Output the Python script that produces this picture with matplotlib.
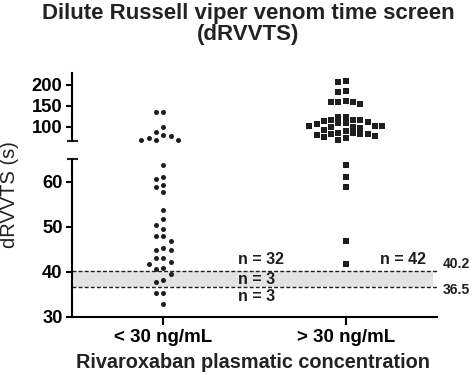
import numpy as np
import matplotlib
matplotlib.use('Agg')
import matplotlib.pyplot as plt

plt.rcParams['font.family'] = ['Liberation Sans', 'DejaVu Sans']

# dRVVTS (s), one list per rivaroxaban group
groups = ['< 30 ng/mL', '> 30 ng/mL']
below_30 = [136, 136, 98.5, 86.5, 80, 77.7, 73.6, 68, 68, 68,
            63.6, 61.1, 60.6, 59.3, 58.7, 57.6, 53.7, 51.6, 50.3, 49.5,
            48.0, 48.0, 46.7, 45.3, 44.8, 44.8, 43.0, 43.0, 42.1, 41.6,
            40.8, 40.5, 39.4, 38.2, 37.6, 35.2, 35.2, 32.8]
above_30 = [210, 206, 186, 183, 162, 158, 158, 158, 154,
            124, 124, 116, 116, 116, 113.7, 110.5, 108, 108, 105.6,
            101.7, 101.7, 101.7, 100, 98.5, 97.6, 92.8, 90.4, 85.6, 84,
            83.2, 82.5, 81.7, 80, 78.4, 75.3, 72, 68,
            63.7, 61.0, 58.7, 46.8, 41.6]
upper_ticks = [100, 150, 200]
lower_ticks = [30, 40, 50, 60]
ref_hi = 40.2
ref_lo = 36.5
n_below = [32, 3, 3]
n_above = [42]

split = 65
ink = '#1e1e1e'

fig = plt.figure(figsize=(4.74, 3.75), dpi=100)
ax_up = fig.add_axes([0.152, 0.6248, 0.770, 0.1797])
ax_lo = fig.add_axes([0.152, 0.1555, 0.770, 0.4205])

for ax in (ax_up, ax_lo):
    ax.set_xlim(0.5, 2.5)
    for s in ('top', 'right'):
        ax.spines[s].set_visible(False)
    ax.spines['left'].set_linewidth(1.5)
    ax.tick_params(axis='y', width=1.5, length=4.3, labelsize=13.2, pad=2.5)

ax_up.set_ylim(66, 228)
ax_up.set_yticks(upper_ticks)
ax_up.spines['bottom'].set_visible(False)
ax_up.set_xticks([])

ax_lo.set_ylim(30, 65)
ax_lo.set_yticks(lower_ticks)
ax_lo.spines['bottom'].set_linewidth(1.5)
ax_lo.set_xticks([1, 2])
ax_lo.set_xticklabels(groups)
ax_lo.tick_params(axis='x', width=1.5, length=5.5, labelsize=13.5, pad=3.5)
for ax in (ax_up, ax_lo):
    for lab in ax.get_yticklabels() + ax.get_xticklabels():
        lab.set_fontweight('bold')

# break caps on the y axis
ax_lo.plot([-0.011, 0.014], [1, 1], transform=ax_lo.transAxes, color=ink,
           lw=1.5, clip_on=False)
ax_up.plot([-0.011, 0.014], [0, 0], transform=ax_up.transAxes, color=ink,
           lw=1.5, clip_on=False)


def swarm(ax, x0, vals, step_px=7.3, gap_px=6.5):
    # put each point into the first free column near the centre
    pts = np.column_stack([np.full(len(vals), x0), vals])
    ys = ax.transData.transform(pts)[:, 1]
    px_per_x = ax.bbox.width / (ax.get_xlim()[1] - ax.get_xlim()[0])
    cols = {}
    xs = []
    order = [0, -1, 1, -2, 2, -3, 3, -4, 4, -5, 5, -6, 6, -7, 7]
    for y in ys:
        for k in order:
            if all(abs(y - yy) >= gap_px for yy in cols.get(k, [])):
                break
        cols.setdefault(k, []).append(y)
        xs.append(x0 + k * step_px / px_per_x)
    return xs


for i, (vals, mk, size) in enumerate([(below_30, 'o', 13), (above_30, 's', 17)]):
    vals = np.array(vals)
    for ax, sel in ((ax_up, vals > split), (ax_lo, vals <= split)):
        v = vals[sel]
        xs = swarm(ax, i + 1, v)
        ax.scatter(xs, v, marker=mk, s=size, color=ink, linewidths=0,
                   clip_on=False, zorder=3)

# reference interval
ax_lo.axhspan(ref_lo, ref_hi, xmin=0, xmax=0.989, color='#e3e3e3', lw=0, zorder=0)
for v in (ref_hi, ref_lo):
    ax_lo.axhline(v, xmin=0, xmax=1.003, color=ink, lw=1.0,
                  dashes=(2.8, 1.6), clip_on=False, zorder=1)
ax_lo.text(2.533, ref_hi + 1.5, f'{ref_hi}', fontsize=10, fontweight='bold',
           va='center', ha='left', color=ink)
ax_lo.text(2.533, ref_lo - 0.6, f'{ref_lo}', fontsize=10, fontweight='bold',
           va='center', ha='left', color=ink)

ax_lo.text(1.41, 42.6, f'n = {n_below[0]}', fontsize=11.5, fontweight='bold',
           va='center', ha='left', color=ink)
ax_lo.text(1.41, 38.3, f'n = {n_below[1]}', fontsize=11.5, fontweight='bold',
           va='center', ha='left', color=ink)
ax_lo.text(1.41, 34.4, f'n = {n_below[2]}', fontsize=11.5, fontweight='bold',
           va='center', ha='left', color=ink)
ax_lo.text(2.19, 42.6, f'n = {n_above[0]}', fontsize=11.5, fontweight='bold',
           va='center', ha='left', color=ink)

fig.text(0.524, 0.993, 'Dilute Russell viper venom time screen\n(dRVVTS)',
         ha='center', va='top', fontsize=16, fontweight='bold',
         linespacing=1.0, color='#222222')
fig.text(0.019, 0.48, 'dRVVTS (s)', rotation=90, ha='center', va='center',
         fontsize=14.5, color='#222222')
fig.text(0.534, 0.032, 'Rivaroxaban plasmatic concentration', ha='center',
         va='center', fontsize=14.3, fontweight='bold', color='#222222')

fig.savefig('out.png', dpi=100)
